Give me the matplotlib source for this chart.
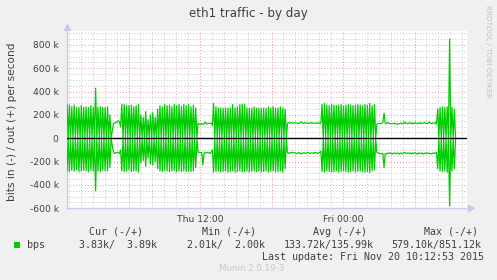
import numpy as np
import matplotlib
matplotlib.use("Agg")
import matplotlib.pyplot as plt
from matplotlib.ticker import FixedLocator, FuncFormatter

# hours since Thu 00:00, one sample every 0.1 h
t_start = 0.84
step = 0.1
trough = 5  # k, bottom of each spike

# burst segments: peak values (k) of each spike
out_a = [290, 285, 270, 285, 265, 265, 280, 265, 270, 265, 280, 265, 430, 265, 270, 265, 265, 270, 200]
in_a = [-280, -285, -275, -280, -270, -285, -280, -275, -280, -285, -275, -280, -450, -280, -285, -275, -280, -280, -250]

out_b = [290, 290, 280, 280, 285, 270, 280, 290, 200, 180, 230, 160, 200, 220, 180, 250,
         280, 270, 290, 280, 285, 270, 290, 280, 290, 275, 290, 280, 290, 270, 285, 260]
in_b = [-280, -285, -280, -270, -285, -280, -280, -290, -210, -190, -240, -170, -220, -230, -200, -260,
        -280, -285, -275, -280, -285, -280, -275, -285, -280, -285, -280, -285, -280, -285, -280, -250]

out_c = [300, 270, 260, 260, 258, 260, 258, 260, 290, 260, 270, 290, 292, 292, 260, 258,
         260, 270, 258, 260, 258, 260, 258, 270, 260, 270, 258, 260, 270, 260, 250]
in_c = [-290, -285, -280, -290, -285, -280, -290, -285, -280, -290, -285, -280, -290, -285, -280, -290,
        -285, -280, -285, -280, -290, -285, -280, -290, -285, -280, -290, -285, -280, -290, -260]

out_d = [290, 300, 285, 280, 290, 285, 280, 285, 290, 280, 285, 290, 285, 280, 285, 290,
         285, 280, 290, 285, 300, 280, 290]
in_d = [-285, -290, -280, -285, -290, -285, -280, -290, -285, -280, -285, -290, -285, -280, -290, -285,
        -280, -285, -290, -285, -295, -280, -270]

out_e = [250, 265, 270, 265, 270, 850, 265, 250]
in_e = [-260, -280, -285, -280, -290, -580, -280, -260]

# quiet segments: plain samples (k)
out_q1 = [60, 130, 130, 135, 140, 150, 140, 100]
in_q1 = [-60, -120, -130, -125, -120, -125, -130, -100]

out_q2 = [130, 120, 120, 125, 120, 125, 140, 125, 125, 130, 125, 130, 110]
in_q2 = [-120, -120, -125, -120, -230, -130, -120, -125, -120, -125, -130, -120, -100]

out_q3 = [130, 135, 130, 135, 130, 130, 135, 130, 130, 128, 130, 140, 135, 130, 130,
          135, 130, 130, 128, 130, 135, 130, 128, 130, 130, 130, 135, 125, 130]
in_q3 = [-125, -125, -130, -120, -125, -120, -125, -130, -130, -125, -120, -135, -130, -125, -125,
         -130, -125, -120, -125, -130, -125, -125, -130, -120, -125, -130, -125, -120, -110]

out_q4 = [120, 125, 130, 125, 130, 135, 215, 130, 125, 135, 130, 125, 125, 128, 125, 130, 125,
          120, 125, 125, 130, 125, 125, 140, 128, 130, 125, 130, 135, 125, 130, 125, 135, 130,
          125, 130, 135, 125, 130, 130, 135, 130, 125, 130, 140, 130, 125, 130, 130, 135, 120]
in_q4 = [-120, -125, -130, -135, -130, -130, -250, -130, -135, -125, -130, -125, -130, -135, -125,
         -130, -130, -125, -130, -135, -125, -130, -130, -120, -125, -130, -125, -130, -125, -135,
         -125, -130, -125, -130, -135, -125, -130, -130, -125, -135, -130, -125, -130, -125, -130,
         -130, -135, -125, -130, -125, -120]

segments = [("burst", out_a, in_a), ("quiet", out_q1, in_q1), ("burst", out_b, in_b),
            ("quiet", out_q2, in_q2), ("burst", out_c, in_c), ("quiet", out_q3, in_q3),
            ("burst", out_d, in_d), ("quiet", out_q4, in_q4), ("burst", out_e, in_e)]

out_vals = []
in_vals = []
for kind, o, i in segments:
    if kind == "burst":
        for po, pi in zip(o, i):
            out_vals += [po, trough]
            in_vals += [pi, -trough]
    else:
        out_vals += o
        in_vals += i
out_vals = np.array(out_vals) * 1e3
in_vals = np.array(in_vals) * 1e3
hours = t_start + step * np.arange(len(out_vals))

x_ticks = [12, 24]
x_labels = ["Thu 12:00", "Fri 00:00"]

W, H = 497, 280
bg = "#F0F0F0"
fig = plt.figure(figsize=(W / 100, H / 100), dpi=100, facecolor=bg)
ax = fig.add_axes([67 / W, 1 - 208.3 / H, 400 / W, 177.3 / H])
ax.set_facecolor("white")

ax.set_xlim(0.84, 34.4)
ax.set_ylim(-600e3, 920e3)

# grid: minor grey, major red
minor_c = "#C4C4C4"
major_c = "#E89494"
for v in np.arange(1, 35, 1):
    if v % 6:
        ax.axvline(v, color=minor_c, lw=0.7, ls=(0, (1, 2)), zorder=1)
for v in np.arange(-550e3, 920e3, 50e3):
    if v % 200e3:
        ax.axhline(v, color=minor_c, lw=0.7, ls=(0, (1, 2)), zorder=1)
for v in [6, 12, 18, 24, 30]:
    ax.axvline(v, color=major_c, lw=0.7, ls=(0, (1, 2)), zorder=1)
for v in np.arange(-400e3, 900e3, 200e3):
    ax.axhline(v, color=major_c, lw=0.7, ls=(0, (1, 2)), zorder=1)

ax.plot(hours, out_vals, color="#00CC00", lw=0.9, zorder=3)
ax.plot(hours, in_vals, color="#00CC00", lw=0.9, zorder=3)
ax.axhline(0, color="black", lw=1.0, zorder=4)

for s in ["top", "right"]:
    ax.spines[s].set_visible(False)
for s in ["left", "bottom"]:
    ax.spines[s].set_color("#C8C8F0")
    ax.spines[s].set_linewidth(1.0)
ax.plot([0], [1.02], marker="^", color="#C8C8F0", ms=4, transform=ax.transAxes, clip_on=False)
ax.plot([1.01], [0], marker=">", color="#C8C8F0", ms=4, transform=ax.transAxes, clip_on=False)

ax.yaxis.set_major_locator(FixedLocator(np.arange(-600e3, 900e3, 200e3)))
ax.yaxis.set_major_formatter(FuncFormatter(lambda v, p: "0" if v == 0 else "%d k" % (v / 1e3)))
ax.xaxis.set_major_locator(FixedLocator(x_ticks))
ax.set_xticklabels(x_labels)
ax.tick_params(axis="both", length=0, labelsize=6.6, labelcolor="#404040")
ax.tick_params(axis="y", pad=6)
ax.tick_params(axis="x", pad=5)

ax.set_ylabel("bits in (-) / out (+) per second", fontsize=7.6, color="#404040")
ax.yaxis.set_label_coords(-50 / 400, 0.49)

fig.text(248 / W, 1 - 13 / H, "eth1 traffic - by day", ha="center", va="center",
         fontsize=8.6, color="#404040")
fig.text(488 / W, 1 - 5 / H, "RRDTOOL / TOBI OETIKER", rotation=-90, ha="center", va="top",
         fontsize=5.2, color="#C0C0C0")

mono = dict(family="DejaVu Sans Mono", fontsize=7.2, color="#404040", va="center")
fig.text(89 / W, 1 - 232 / H, "Cur (-/+)", **mono)
fig.text(201.7 / W, 1 - 232 / H, "Min (-/+)", **mono)
fig.text(313 / W, 1 - 232 / H, "Avg (-/+)", **mono)
fig.text(424 / W, 1 - 232 / H, "Max (-/+)", **mono)

fig.patches.append(plt.Rectangle((14 / W, 1 - 248 / H), 6 / W, 6 / H, transform=fig.transFigure,
                                 facecolor="#00CC00", edgecolor="none"))
fig.text(26.7 / W, 1 - 245 / H, "bps", **mono)
fig.text(78.7 / W, 1 - 245 / H, "3.83k/  3.89k", **mono)
fig.text(186.7 / W, 1 - 245 / H, "2.01k/  2.00k", **mono)
fig.text(283.3 / W, 1 - 245 / H, "133.72k/135.99k", **mono)
fig.text(391.7 / W, 1 - 245 / H, "579.10k/851.12k", **mono)
fig.text(261.7 / W, 1 - 256.7 / H, "Last update: Fri Nov 20 10:12:53 2015", **mono)
fig.text(218.7 / W, 1 - 268.3 / H, "Munin 2.0.19-3", fontsize=6.3, color="#C8C8C8", va="center")

fig.savefig("out.png", dpi=100, facecolor=bg)
